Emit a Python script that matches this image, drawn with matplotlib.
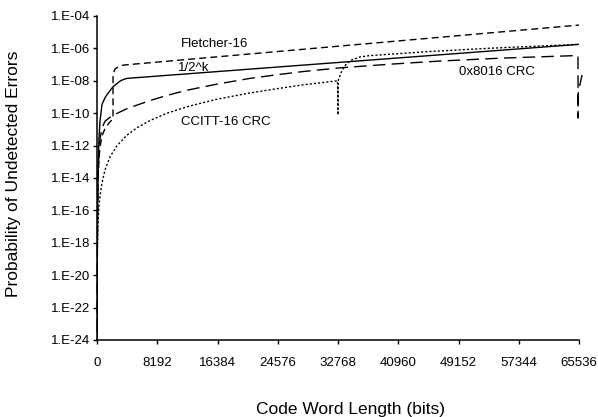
import numpy as np
import matplotlib
matplotlib.use("Agg")
import matplotlib.pyplot as plt
from matplotlib.ticker import FixedLocator, FuncFormatter, NullLocator

plt.rcParams['font.family'] = ['Liberation Sans', 'DejaVu Sans']

# data (x in bits, y as log10 of probability)
half_k_x = [8, 32, 68, 136, 272, 408, 680, 1088, 1360, 2175, 3127, 3600, 4079, 65536]
half_k_y = [-24, -19, -16.5, -13.5, -11.5, -10.5, -9.45, -9.05, -8.85, -8.37, -8.02, -7.92, -7.85, -5.75]

fletcher_x = [16, 32, 64, 136, 272, 408, 680, 1088, 1632, 2175, 2180,
              2447, 2855, 3263, 3800, 65536]
fletcher_y = [-23, -20, -17, -14.2, -12.8, -12.1, -11.4, -10.95, -10.6, -10.35, -7.6,
              -7.27, -7.15, -7.06, -7.02, -4.56]

crc8016_x = [16, 32, 64, 136, 272, 408, 680, 1088, 1632, 2175, 3000, 4079, 5440, 7206,
             9520, 12240, 16384, 20803, 24576, 28000, 33041, 40000, 46638, 55000, 64722,
             65400, 65410, 65440, 65950]
crc8016_y = [-23.5, -20, -17, -14.2, -12.4, -11.6, -10.9, -10.5, -10.3, -10.15, -9.95, -9.72,
             -9.5, -9.22, -8.9, -8.58, -8.2, -7.85, -7.62, -7.43, -7.2, -6.97, -6.78, -6.6,
             -6.45, -6.45, -10.3, -8.7, -7.64]

ccitt_x = [8, 20, 50, 136, 272, 408, 680, 1088, 1768, 2720, 4079, 5440, 7206, 9520,
           12240, 16384, 20803, 24576, 28000, 32700, 32768, 32790, 33180, 33600, 33992,
           34600, 35760, 37000, 39839, 45000, 53436, 65536]
ccitt_y = [-24, -21, -18.5, -16.8, -15.7, -15.1, -14.3, -13.5, -12.7, -12.0, -11.35, -10.9,
           -10.45, -10.0, -9.6, -9.13, -8.75, -8.48, -8.25, -8.0, -10.1, -8.0, -7.5, -7.15,
           -6.92, -6.72, -6.53, -6.45, -6.36, -6.2, -5.99, -5.75]

x_ticks = [0, 8192, 16384, 24576, 32768, 40960, 49152, 57344, 65536]
y_ticks = [1e-24, 1e-22, 1e-20, 1e-18, 1e-16, 1e-14, 1e-12, 1e-10, 1e-08, 1e-06, 1e-04]

fig = plt.figure(figsize=(5.98, 4.17), dpi=100)
ax = fig.add_axes([97 / 598, 1 - 340 / 417, 482 / 598, 324 / 417])

lw = 1.0
ax.plot(half_k_x, 10.0 ** np.array(half_k_y), color='black', lw=lw, linestyle='-')
ax.plot(fletcher_x, 10.0 ** np.array(fletcher_y), color='black', lw=lw, linestyle=(0, (5, 3)))
ax.plot(crc8016_x, 10.0 ** np.array(crc8016_y), color='black', lw=lw,
        linestyle=(0, (9, 4.5)), clip_on=False)
ax.plot(ccitt_x, 10.0 ** np.array(ccitt_y), color='black', lw=lw, linestyle=(0, (1.5, 1.5)))

ax.set_yscale('log')
ax.set_xlim(0, 65536)
ax.set_ylim(1e-24, 1e-04)
ax.xaxis.set_major_locator(FixedLocator(x_ticks))
ax.yaxis.set_major_locator(FixedLocator(y_ticks))
ax.yaxis.set_minor_locator(NullLocator())
ax.yaxis.set_major_formatter(FuncFormatter(lambda v, p: "1.E%03d" % int(round(np.log10(v)))))

for side in ['top', 'right']:
    ax.spines[side].set_visible(False)
for side in ['left', 'bottom']:
    ax.spines[side].set_linewidth(1.1)

ax.tick_params(axis='both', direction='out', length=3, width=1, labelsize=9.5, colors='black')
ax.tick_params(axis='x', pad=9)
ax.tick_params(axis='y', pad=2)

ax.set_xlabel('Code Word Length (bits)', fontsize=12.5)
ax.xaxis.set_label_coords(0.525, -0.19)
ax.set_ylabel('Probability of Undetected Errors', fontsize=12.5)
ax.yaxis.set_label_coords(-0.157, 0.514)

# curve labels
ax.text(11421, 10 ** -5.73, 'Fletcher-16', fontsize=9.5, ha='left', va='center')
ax.text(11014, 10 ** -7.21, '1/2^k', fontsize=9.5, ha='left', va='center')
ax.text(11421, 10 ** -10.54, 'CCITT-16 CRC', fontsize=9.5, ha='left', va='center')
ax.text(49221, 10 ** -7.46, '0x8016 CRC', fontsize=9.5, ha='left', va='center')

fig.savefig('out.png', dpi=100)
